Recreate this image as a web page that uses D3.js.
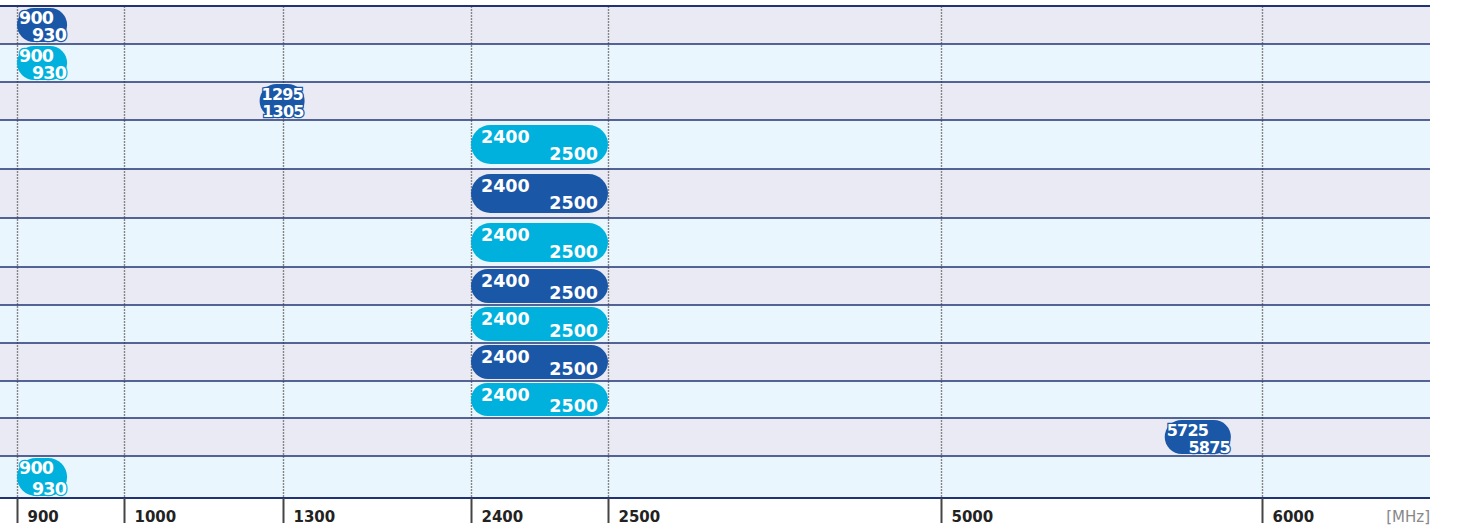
<!DOCTYPE html>
<html>
<head>
<meta charset="utf-8">
<script src="https://cdn.jsdelivr.net/npm/d3@7"></script>
<style>
  body { margin: 0; background: #fff; }
  svg { display: block; }
  text { font-family: "DejaVu Sans", Verdana, sans-serif; }
</style>
</head>
<body>
<svg id="chart" width="1458" height="526"></svg>
<script>
// band data, one entry per row, top to bottom
var bandStart = [900, 900, 1295, 2400, 2400, 2400, 2400, 2400, 2400, 2400, 5725, 900];
var bandEnd   = [930, 930, 1305, 2500, 2500, 2500, 2500, 2500, 2500, 2500, 5875, 930];
var bandType  = ['dark', 'light', 'dark', 'light', 'dark', 'light', 'dark', 'light', 'dark', 'light', 'dark', 'light'];

// axis ticks (non-linear axis)
var tickValues = [900, 1000, 1300, 2400, 2500, 5000, 6000];
var unitLabel = '[MHz]';

var colors = { dark: '#1b57a7', light: '#00b1dd' };
var rowFill = ['#e9eaf4', '#e9f6fd'];

var svg = d3.select('#chart');
var plotLeft = 0, plotRight = 1430, plotTop = 6, plotBottom = 498;

// row heights (layout only)
var rowWeights = [38, 38, 38, 49, 49, 49, 38, 38, 38, 37, 38, 42];
var rowY = [plotTop];
rowWeights.forEach(function (w, i) { rowY.push(rowY[i] + w); });

var x = d3.scaleLinear()
    .domain(tickValues)
    .range([17, 124, 283, 471, 608, 941, 1262]);

// row backgrounds
svg.selectAll('rect.row')
    .data(rowWeights)
    .enter().append('rect')
    .attr('class', 'row')
    .attr('x', plotLeft)
    .attr('y', function (d, i) { return rowY[i]; })
    .attr('width', plotRight - plotLeft)
    .attr('height', function (d) { return d; })
    .style('fill', function (d, i) { return rowFill[i % 2]; });

// vertical dotted grid
svg.selectAll('line.vgrid')
    .data(tickValues)
    .enter().append('line')
    .attr('class', 'vgrid')
    .attr('x1', function (d) { return x(d) + 0.5; })
    .attr('x2', function (d) { return x(d) + 0.5; })
    .attr('y1', plotTop)
    .attr('y2', plotBottom)
    .attr('stroke', '#858585')
    .attr('stroke-width', 1.4)
    .attr('stroke-dasharray', '2,1');

// horizontal row lines
svg.selectAll('line.hgrid')
    .data(rowY)
    .enter().append('line')
    .attr('class', 'hgrid')
    .attr('x1', plotLeft)
    .attr('x2', plotRight)
    .attr('y1', function (d) { return d; })
    .attr('y2', function (d) { return d; })
    .attr('stroke', '#223373')
    .attr('stroke-width', function (d, i) { return (i === 0 || i === rowY.length - 1) ? 2 : 1.3; });

// bands
var bands = bandStart.map(function (s, i) {
    var x0 = x(s), x1 = x(bandEnd[i]);
    var narrow = (x1 - x0) < 60;
    var digits = String(s).length;
    var w = narrow ? Math.max(x1 - x0 + 18, 45) : x1 - x0;
    var cx = (x0 + x1) / 2;
    var bx = narrow ? Math.max(cx - w / 2, x(900)) : x0;
    var rh = rowWeights[i];
    var h = Math.min(39, rh - 4);
    var by = rowY[i] + (rh - h) / 2;
    return { start: s, end: bandEnd[i], type: bandType[i], x: bx, y: by, w: w, h: h, narrow: narrow, digits: digits };
});

var g = svg.selectAll('g.band')
    .data(bands)
    .enter().append('g')
    .attr('class', 'band');

g.append('rect')
    .attr('x', function (d) { return d.x; })
    .attr('y', function (d) { return d.y; })
    .attr('width', function (d) { return d.w; })
    .attr('height', function (d) { return d.h; })
    .attr('rx', function (d) { return d.h / 2; })
    .style('fill', function (d) { return colors[d.type]; });

g.append('text')
    .attr('x', function (d) { return d.x + (d.narrow ? 2 : 10); })
    .attr('y', function (d) { return d.y + (d.narrow ? 16 : 18); })
    .attr('text-anchor', 'start')
    .text(function (d) { return d.start; });

g.append('text')
    .attr('x', function (d) { return d.x + d.w - (d.narrow ? 1 : 10); })
    .attr('y', function (d) { return d.y + d.h - (d.narrow ? 1 : 4); })
    .attr('text-anchor', 'end')
    .text(function (d) { return d.end; });

g.selectAll('text')
    .style('font-weight', 'bold')
    .style('font-size', function () {
        var d = d3.select(this.parentNode).datum();
        return d.narrow ? (d.digits > 3 ? '16px' : '17.5px') : '17.5px';
    })
    .style('letter-spacing', function () { return d3.select(this.parentNode).datum().narrow ? '-0.8px' : '0px'; })
    .style('fill', '#fff')
    .style('stroke', function () { return colors[d3.select(this.parentNode).datum().type]; })
    .style('stroke-width', function () { return d3.select(this.parentNode).datum().narrow ? 2.5 : 0; })
    .style('paint-order', 'stroke');

// x axis
var axis = d3.axisBottom(x)
    .tickValues(tickValues)
    .tickSize(25)
    .tickFormat(d3.format('d'));

var ax = svg.append('g')
    .attr('transform', 'translate(0,' + plotBottom + ')')
    .call(axis);

ax.select('.domain').remove();
ax.selectAll('.tick line')
    .attr('stroke', '#444')
    .attr('stroke-width', 2);
ax.selectAll('.tick text')
    .attr('text-anchor', 'start')
    .attr('x', 10)
    .attr('y', 13)
    .attr('dy', '0.71em')
    .style('font-size', '15px')
    .style('font-weight', 'bold')
    .style('fill', '#222');

svg.append('text')
    .attr('x', plotRight)
    .attr('y', 522)
    .attr('text-anchor', 'end')
    .style('font-size', '15px')
    .style('fill', '#888')
    .text(unitLabel);
</script>
</body>
</html>
